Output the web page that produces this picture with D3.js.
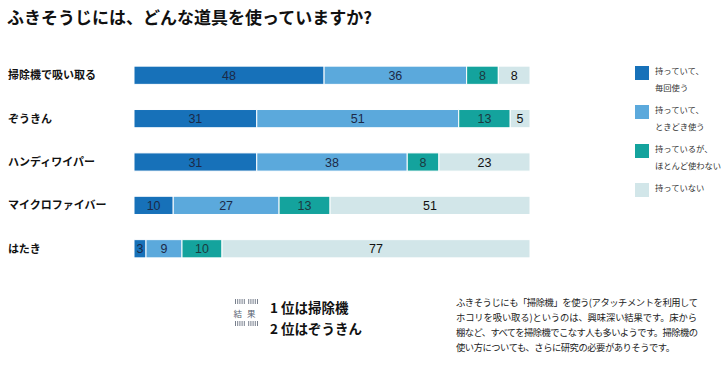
<!DOCTYPE html>
<html>
<head>
<meta charset="utf-8">
<script src="https://cdn.jsdelivr.net/npm/d3@7"></script>
<style>
  body { margin: 0; background: #fff; }
  svg { display: block; font-family: "Noto Sans CJK JP", sans-serif; }
</style>
</head>
<body>
<div id="chart"></div>
<script>
// data
const categories = ["掃除機で吸い取る", "ぞうきん", "ハンディワイパー", "マイクロファイバー", "はたき"];
const seriesNames = ["持っていて、毎回使う", "持っていて、ときどき使う", "持っているが、ほとんど使わない", "持っていない"];
const legendLines = [["持っていて、", "毎回使う"], ["持っていて、", "ときどき使う"], ["持っているが、", "ほとんど使わない"], ["持っていない"]];
const everyTime = [48, 31, 31, 10, 3];
const sometimes = [36, 51, 38, 27, 9];
const rarely = [8, 13, 8, 13, 10];
const notOwned = [8, 5, 23, 51, 77];
const colors = ["#1771b9", "#5ba9dc", "#14a39d", "#d2e6e9"];
const textColors = ["#1b2a48", "#1b2a48", "#1b3a40", "#111"];

const width = 725, height = 372;
const svg = d3.select("#chart").append("svg")
  .attr("width", width)
  .attr("height", height);

// title
svg.append("text")
  .attr("x", 7).attr("y", 24)
  .attr("font-size", 17).attr("font-weight", 700)
  .attr("fill", "#111")
  .text("ふきそうじには、どんな道具を使っていますか?");

const rows = categories.map((c, i) => ({
  name: c, s0: everyTime[i], s1: sometimes[i], s2: rarely[i], s3: notOwned[i]
}));
const keys = ["s0", "s1", "s2", "s3"];
const stacked = d3.stack().keys(keys).offset(d3.stackOffsetExpand)(rows);

const x = d3.scaleLinear().domain([0, 1]).range([134, 530]);
const y = d3.scaleBand().domain(categories).range([54, 270]).paddingInner(0.58).paddingOuter(0.28);

// category labels
svg.append("g").selectAll("text")
  .data(categories)
  .enter().append("text")
  .attr("x", 8)
  .attr("y", d => y(d) + y.bandwidth() / 2 + 4)
  .attr("font-size", 11).attr("font-weight", 700)
  .attr("fill", "#111")
  .text(d => d);

// bars
const layer = svg.append("g").selectAll("g")
  .data(stacked)
  .enter().append("g")
  .attr("fill", (d, i) => colors[i]);

layer.selectAll("rect")
  .data(d => d)
  .enter().append("rect")
  .attr("x", d => x(d[0]))
  .attr("y", d => y(d.data.name))
  .attr("width", d => x(d[1]) - x(d[0]))
  .attr("height", y.bandwidth())
  .attr("stroke", "#fff")
  .attr("stroke-width", 1);

stacked.forEach((s, i) => {
  svg.append("g").selectAll("text")
    .data(s)
    .enter().append("text")
    .attr("x", d => (x(d[0]) + x(d[1])) / 2)
    .attr("y", d => y(d.data.name) + y.bandwidth() / 2 + 4.5)
    .attr("text-anchor", "middle")
    .attr("font-family", "Liberation Sans, Arial, sans-serif")
    .attr("font-size", 12.5)
    .attr("fill", textColors[i])
    .text(d => d.data[s.key]);
});

// legend
const legend = svg.append("g").selectAll("g")
  .data(seriesNames)
  .enter().append("g")
  .attr("transform", (d, i) => `translate(635, ${66 + i * 39})`);

legend.append("rect")
  .attr("width", 14).attr("height", 14)
  .attr("fill", (d, i) => colors[i]);

legend.each(function(d, i) {
  const t = d3.select(this).append("text")
    .attr("x", 20).attr("y", 8)
    .attr("font-size", 8.3).attr("fill", "#333");
  legendLines[i].forEach((ln, j) => {
    t.append("tspan").attr("x", 20).attr("dy", j === 0 ? 0 : 17).text(ln);
  });
});

// result box
const hatch = svg.append("g").attr("stroke", "#556070").attr("stroke-width", 0.8);
[299, 321].forEach(yy => {
  d3.range(0, 23, 2.2).forEach(dx => {
    if (Math.abs(dx - 11) < 1.2) return;
    hatch.append("line")
      .attr("x1", 235.5 + dx).attr("x2", 235.5 + dx)
      .attr("y1", yy).attr("y2", yy + 5);
  });
});
svg.append("text")
  .attr("x", 247).attr("y", 317)
  .attr("text-anchor", "middle")
  .attr("font-size", 8.5).attr("fill", "#556070")
  .attr("letter-spacing", 5)
  .text("結果");

svg.append("text")
  .attr("x", 270).attr("y", 313)
  .attr("font-size", 13.5).attr("font-weight", 700).attr("fill", "#111")
  .text("1 位は掃除機");
svg.append("text")
  .attr("x", 270).attr("y", 334)
  .attr("font-size", 13.5).attr("font-weight", 700).attr("fill", "#111")
  .text("2 位はぞうきん");

// note
const note = [
  "ふきそうじにも「掃除機」を使う(アタッチメントを利用して",
  "ホコリを吸い取る)というのは、興味深い結果です。床から",
  "棚など、すべてを掃除機でこなす人も多いようです。掃除機の",
  "使い方についても、さらに研究の必要がありそうです。"
];
const noteWidths = [242, 241, 242, 219];
svg.append("g").selectAll("text")
  .data(note)
  .enter().append("text")
  .attr("x", 456)
  .attr("y", (d, i) => 306 + i * 15)
  .attr("font-size", 9.3).attr("fill", "#222")
  .attr("textLength", (d, i) => noteWidths[i])
  .attr("lengthAdjust", "spacing")
  .text(d => d);
</script>
</body>
</html>
